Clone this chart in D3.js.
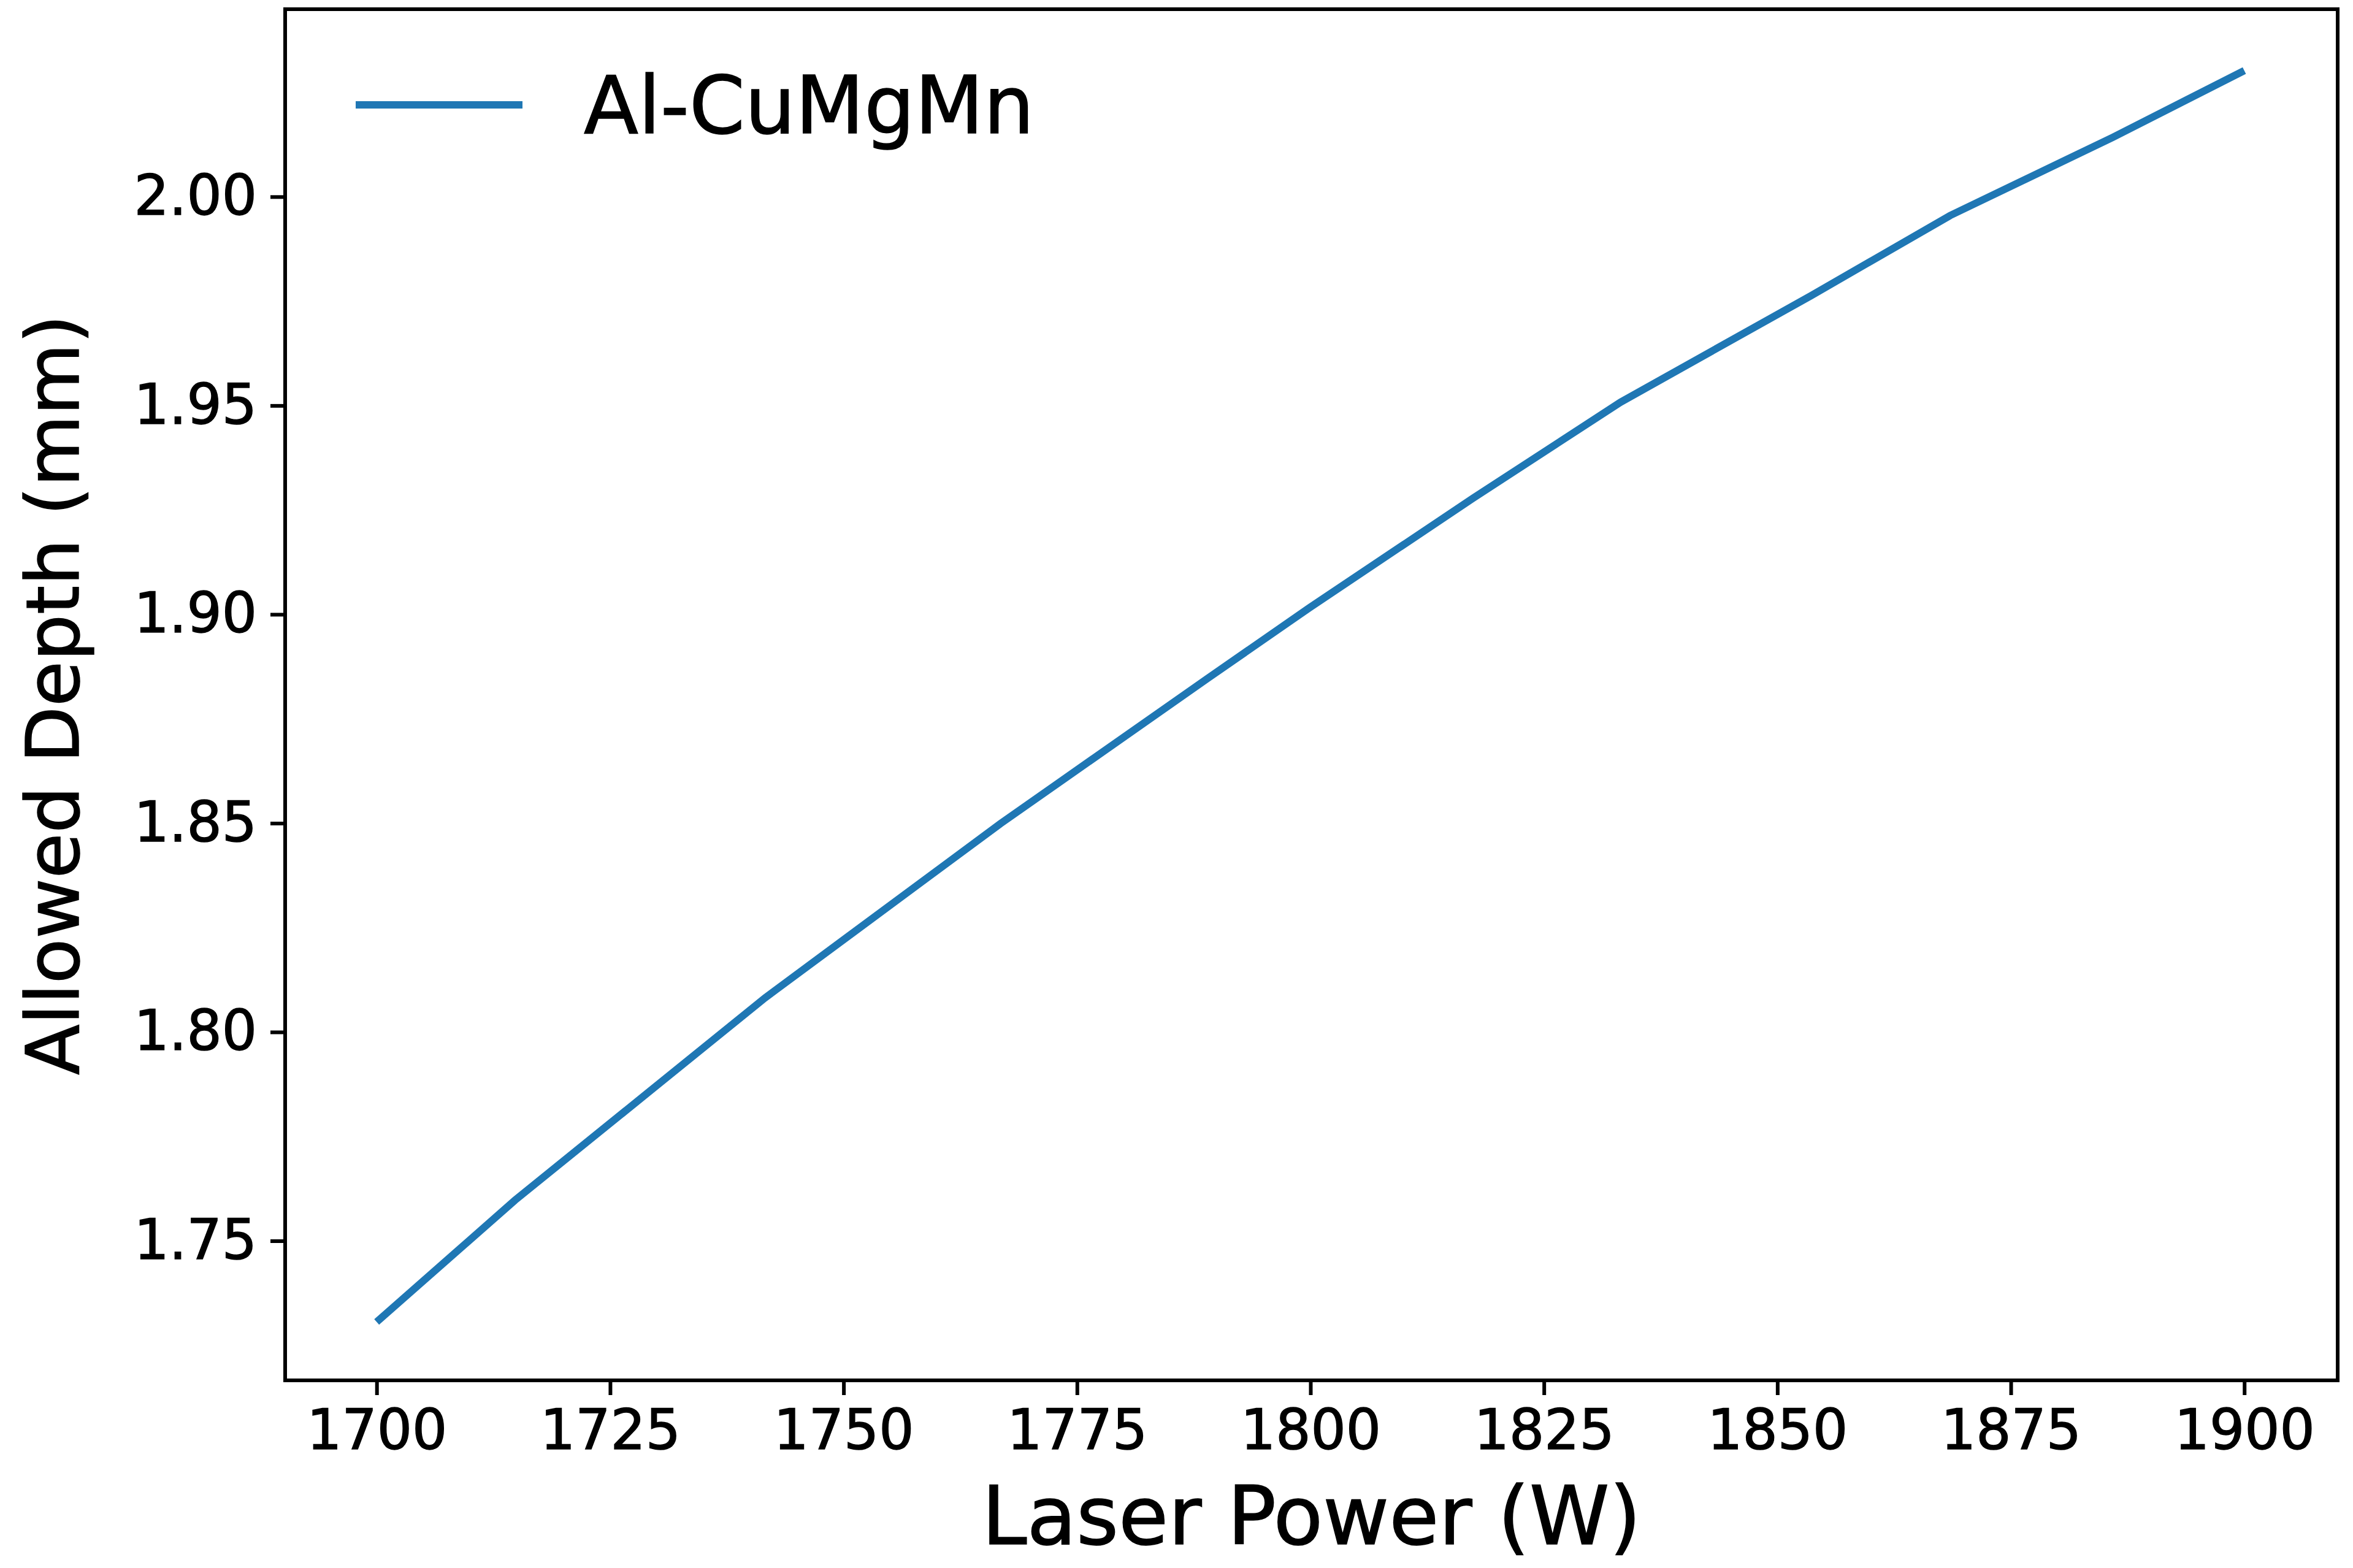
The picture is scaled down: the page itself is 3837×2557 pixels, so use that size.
<!DOCTYPE html>
<html><head><meta charset="utf-8">
<script src="https://cdn.jsdelivr.net/npm/d3@7"></script>
<style>body{margin:0;background:#fff}svg{display:block}text{font-family:"DejaVu Sans",sans-serif}</style>
</head><body>
<svg id="chart" width="3837" height="2557"></svg>
<script>
// values
const power = [1700, 1714.8, 1741.6, 1766.8, 1789.0, 1799.9, 1817.4, 1833.2, 1853.6, 1868.5, 1885.9, 1900]
const depth = [1.7306, 1.7597, 1.8082, 1.8499, 1.8847, 1.9016, 1.9278, 1.9508, 1.9763, 1.9955, 2.0142, 2.0302]
const xTicks = [1700, 1725, 1750, 1775, 1800, 1825, 1850, 1875, 1900]
const yTicks = [1.75, 1.80, 1.85, 1.90, 1.95, 2.00]
const seriesName = "Al-CuMgMn"

const svg = d3.select("#chart")
const box = {left: 465, right: 3812, top: 15, bottom: 2251}

const x = d3.scaleLinear().domain([1690.2, 1910]).range([box.left, box.right])
const y = d3.scaleLinear().domain([1.7166, 2.0449]).range([box.bottom, box.top])

const xAxis = svg.append("g")
  .attr("transform", `translate(0,${box.bottom})`)
  .call(d3.axisBottom(x).tickValues(xTicks).tickFormat(d3.format("d")).tickSize(24).tickPadding(24))
const yAxis = svg.append("g")
  .attr("transform", `translate(${box.left},0)`)
  .call(d3.axisLeft(y).tickValues(yTicks).tickFormat(d3.format(".2f")).tickSize(24).tickPadding(22))

;[xAxis, yAxis].forEach(a => {
  a.select(".domain").remove()
  a.selectAll(".tick line").attr("stroke", "#000").attr("stroke-width", 6)
  a.selectAll(".tick text").attr("font-size", 90).attr("fill", "#000")
    .attr("stroke", "#000").attr("stroke-width", 1.5)
})

svg.append("rect")
  .attr("x", box.left).attr("y", box.top)
  .attr("width", box.right - box.left).attr("height", box.bottom - box.top)
  .attr("fill", "none").attr("stroke", "#000").attr("stroke-width", 6)

const pts = power.map((p, i) => [p, depth[i]])
svg.append("path")
  .datum(pts)
  .attr("fill", "none")
  .attr("stroke", "#1f77b4")
  .attr("stroke-width", 12)
  .attr("d", d3.line().x(d => x(d[0])).y(d => y(d[1])))

// legend
svg.append("line")
  .attr("x1", 580).attr("x2", 852).attr("y1", 171).attr("y2", 171)
  .attr("stroke", "#1f77b4").attr("stroke-width", 12)
svg.append("text")
  .attr("x", 952).attr("y", 171).attr("dy", "0.35em")
  .attr("font-size", 130).attr("stroke", "#000").attr("stroke-width", 1.5)
  .text(seriesName)

svg.append("text")
  .attr("x", (box.left + box.right) / 2).attr("y", 2518)
  .attr("text-anchor", "middle").attr("font-size", 132)
  .attr("stroke", "#000").attr("stroke-width", 1.5)
  .text("Laser Power (W)")
svg.append("text")
  .attr("transform", `translate(128,${(box.top + box.bottom) / 2}) rotate(-90)`)
  .attr("text-anchor", "middle").attr("font-size", 120)
  .attr("stroke", "#000").attr("stroke-width", 1.5)
  .text("Allowed Depth (mm)")
</script>
</body></html>
